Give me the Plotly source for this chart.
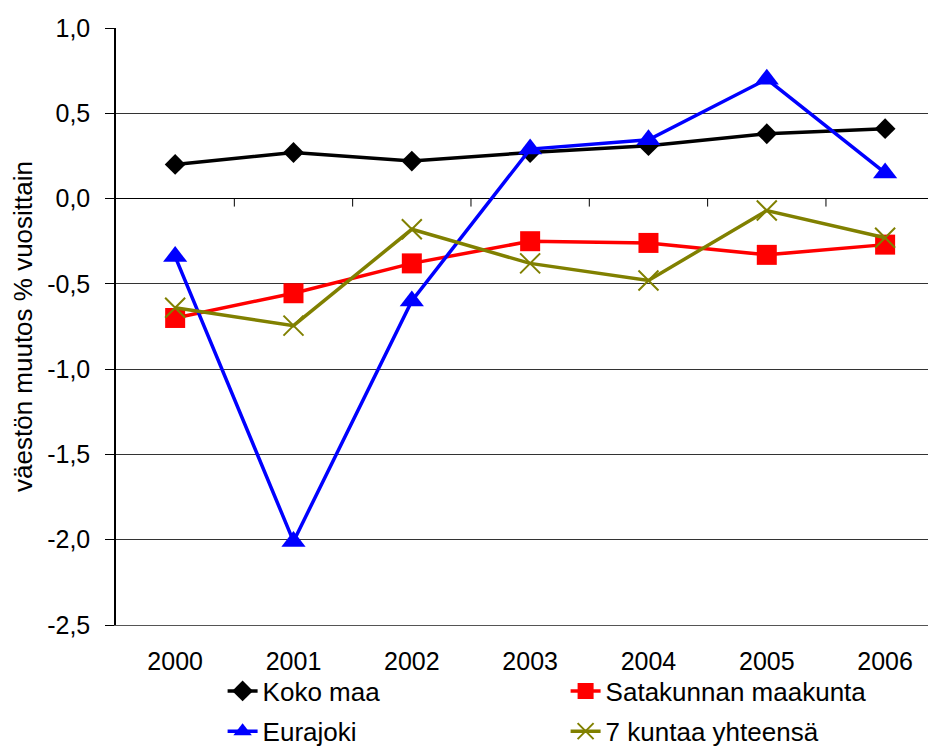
import plotly.graph_objects as go

# Vuodet ja sarjat (väestön muutos % vuosittain)
vuodet = ["2000", "2001", "2002", "2003", "2004", "2005", "2006"]
koko_maa = [0.20, 0.27, 0.22, 0.27, 0.31, 0.38, 0.41]
satakunta = [-0.70, -0.555, -0.38, -0.25, -0.26, -0.33, -0.27]
eurajoki = [-0.34, -2.01, -0.60, 0.29, 0.345, 0.70, 0.15]
seitseman_kuntaa = [-0.64, -0.745, -0.18, -0.38, -0.48, -0.07, -0.23]

y_arvot = [-2.5, -2.0, -1.5, -1.0, -0.5, 0.0, 0.5, 1.0]
y_tekstit = ["-2,5", "-2,0", "-1,5", "-1,0", "-0,5", "0,0", "0,5", "1,0"]

FONT = "Liberation Sans, Arial, sans-serif"

fig = go.Figure()

sarjat = [
    ("Koko maa", koko_maa, "#000000", dict(symbol="diamond", size=16), "legend"),
    ("Satakunnan maakunta", satakunta, "#FF0000", dict(symbol="square", size=20), "legend"),
    ("Eurajoki", eurajoki, "#0000FF", dict(symbol="triangle-up", size=21), "legend2"),
    ("7 kuntaa yhteensä", seitseman_kuntaa, "#808000",
     dict(symbol="x-thin-open", size=20, line=dict(width=2, color="#808000")), "legend2"),
]

for nimi, arvot, vari, merkki, selite in sarjat:
    fig.add_trace(go.Scatter(
        x=vuodet,
        y=arvot,
        mode="lines+markers",
        name=nimi,
        legend=selite,
        line=dict(color=vari, width=3.5),
        marker=dict(color=vari, **merkki),
    ))

# pienet jakoviivat nolla-akselilla luokkien välissä
for i in range(len(vuodet) - 1):
    fig.add_shape(type="line", xref="x", yref="y",
                  x0=i + 0.5, x1=i + 0.5,
                  ysizemode="pixel", yanchor=0, y0=0, y1=-8,
                  line=dict(color="#000000", width=1))

selite_tyyli = dict(
    orientation="h",
    x=0.13,
    xanchor="left", yanchor="middle",
    entrywidth=298,
    font=dict(size=26),
    bgcolor="rgba(0,0,0,0)",
)

# sivun oletusmarginaali (8 px) siirtää kuvaa, joten koko pienennetään vastaavasti
fig.update_layout(
    width=928,
    height=741,
    margin=dict(l=108, r=0, t=20, b=124, autoexpand=False),
    paper_bgcolor="white",
    plot_bgcolor="white",
    font=dict(family=FONT, size=25, color="#000000"),
    showlegend=True,
    legend=dict(y=-0.1106, **selite_tyyli),
    legend2=dict(y=-0.178, **selite_tyyli),
)

fig.update_xaxes(
    type="category",
    range=[-0.5, 6.43],
    showgrid=False,
    showline=True,
    linecolor="#555555",
    linewidth=1,
    ticks="",
    ticklabelstandoff=14,
    tickfont=dict(size=25),
)

fig.update_yaxes(
    range=[-2.5, 1.0],
    tickmode="array",
    tickvals=y_arvot,
    ticktext=y_tekstit,
    showgrid=True,
    gridcolor="#333333",
    gridwidth=1,
    zeroline=True,
    zerolinecolor="#000000",
    zerolinewidth=1,
    showline=True,
    linecolor="#000000",
    linewidth=1.5,
    ticks="outside",
    ticklen=9,
    tickcolor="#000000",
    ticklabelstandoff=10,
    tickfont=dict(size=25),
    title=dict(text="väestön muutos % vuosittain", standoff=12,
               font=dict(size=26)),
)

fig.write_html("out.html")
